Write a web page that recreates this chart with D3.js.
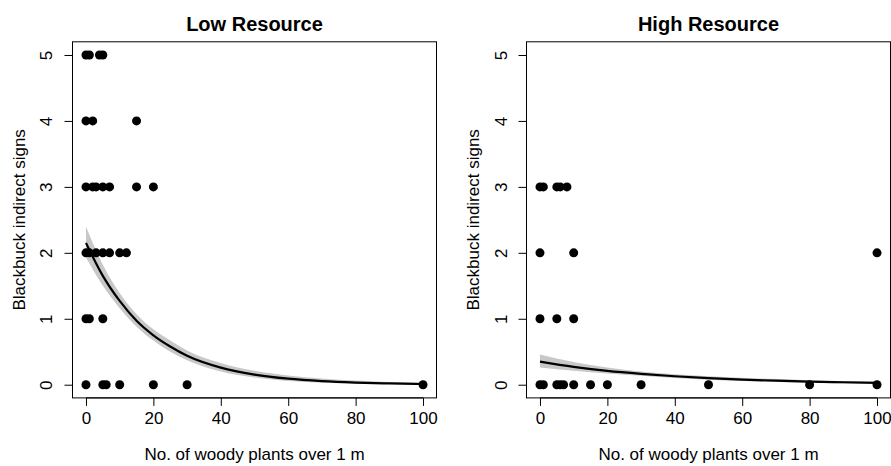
<!DOCTYPE html>
<html>
<head>
<meta charset="utf-8">
<script src="https://cdn.jsdelivr.net/npm/d3@7"></script>
<style>
  html, body { margin: 0; padding: 0; background: #fff; }
  svg { display: block; }
  text { font-family: "Liberation Sans", Arial, Helvetica, sans-serif; fill: #000; }
</style>
</head>
<body>
<svg id="chart" width="891" height="466"></svg>
<script>
// ---- Data ----
const panelTitles = ["Low Resource", "High Resource"];
const xTicks = [0, 20, 40, 60, 80, 100];
const yTicks = [0, 1, 2, 3, 4, 5];
const xLabel = "No. of woody plants over 1 m";
const yLabel = "Blackbuck indirect signs";

// Low resource observations
const lowX = [0, 1, 4, 5,  0, 2, 15,  0, 2, 3, 5, 7, 15, 20,  0, 1, 3, 5, 7, 10, 12,  0, 1, 5,  0, 5, 6, 10, 20, 30, 100];
const lowY = [5, 5, 5, 5,  4, 4, 4,   3, 3, 3, 3, 3, 3, 3,    2, 2, 2, 2, 2, 2, 2,     1, 1, 1,  0, 0, 0, 0, 0, 0, 0];

// High resource observations
const highX = [0, 1, 5, 6, 8,  0, 10, 100,  0, 5, 10,  0, 1, 5, 6, 7, 10, 15, 20, 30, 50, 80, 100];
const highY = [3, 3, 3, 3, 3,  2, 2, 2,     1, 1, 1,   0, 0, 0, 0, 0, 0, 0, 0, 0, 0, 0, 0];

// Fitted curves
const lowFitX  = [0, 5, 10, 15, 20, 25, 30, 40, 50, 60, 70, 80, 90, 100];
const lowFit   = [2.15, 1.65, 1.27, 0.97, 0.75, 0.58, 0.44, 0.26, 0.154, 0.091, 0.054, 0.032, 0.019, 0.011];
const lowLo    = [1.93, 1.50, 1.16, 0.88, 0.67, 0.50, 0.37, 0.20, 0.11, 0.058, 0.031, 0.016, 0.009, 0.005];
const lowHi    = [2.40, 1.82, 1.39, 1.07, 0.84, 0.67, 0.52, 0.33, 0.21, 0.14, 0.093, 0.062, 0.041, 0.027];

const highFitX = [0, 10, 20, 30, 40, 50, 60, 70, 80, 90, 100];
const highFit  = [0.35, 0.27, 0.21, 0.165, 0.128, 0.10, 0.078, 0.061, 0.047, 0.037, 0.029];
const highLo   = [0.26, 0.21, 0.17, 0.135, 0.10, 0.075, 0.055, 0.04, 0.028, 0.02, 0.014];
const highHi   = [0.46, 0.345, 0.26, 0.20, 0.16, 0.13, 0.105, 0.085, 0.068, 0.055, 0.045];

// ---- Drawing ----
const svg = d3.select("#chart");
const yRange = [397.9, 41.8];

const panels = [
  { title: panelTitles[0], xs: lowX, ys: lowY, fx: lowFitX, f: lowFit, lo: lowLo, hi: lowHi,
    xRange: [72.5, 436.5], yTitleX: 25, yTickX: 52 },
  { title: panelTitles[1], xs: highX, ys: highY, fx: highFitX, f: highFit, lo: highLo, hi: highHi,
    xRange: [526.5, 890.5], yTitleX: 479, yTickX: 507 }
];

panels.forEach(p => {
  const x = d3.scaleLinear().domain([-4, 104]).range(p.xRange);
  const y = d3.scaleLinear().domain([-0.2, 5.2]).range(yRange);
  const g = svg.append("g");

  // confidence band
  const band = p.fx.map((v, i) => ({ x: v, lo: p.lo[i], hi: p.hi[i] }));
  g.append("path")
    .datum(band)
    .attr("fill", "#c8c8c8")
    .attr("d", d3.area().curve(d3.curveMonotoneX)
      .x(d => x(d.x)).y0(d => y(d.lo)).y1(d => y(d.hi)));

  // fitted line
  const fit = p.fx.map((v, i) => ({ x: v, y: p.f[i] }));
  g.append("path")
    .datum(fit)
    .attr("fill", "none")
    .attr("stroke", "#000")
    .attr("stroke-width", 2.2)
    .attr("d", d3.line().curve(d3.curveMonotoneX).x(d => x(d.x)).y(d => y(d.y)));

  // points
  const pts = p.xs.map((v, i) => ({ x: v, y: p.ys[i] }));
  g.selectAll("circle.pt").data(pts).enter().append("circle")
    .attr("class", "pt")
    .attr("cx", d => x(d.x)).attr("cy", d => y(d.y))
    .attr("r", 4.5).attr("fill", "#000");

  // box
  g.append("rect")
    .attr("x", p.xRange[0]).attr("y", yRange[1])
    .attr("width", p.xRange[1] - p.xRange[0]).attr("height", yRange[0] - yRange[1])
    .attr("fill", "none").attr("stroke", "#000").attr("stroke-width", 1);

  // x axis
  const xa = g.append("g").attr("transform", `translate(0,${yRange[0]})`)
    .call(d3.axisBottom(x).tickValues(xTicks).tickSize(8).tickPadding(3).tickFormat(d3.format("d")));
  xa.select(".domain")
    .attr("d", `M${x(xTicks[0])},0H${x(xTicks[xTicks.length - 1])}`);
  xa.selectAll("text").attr("font-size", 17).attr("font-family", "Liberation Sans, Arial, sans-serif").attr("dy", "0.9em");
  xa.selectAll("line,path").attr("stroke", "#000");

  // y axis
  const ya = g.append("g").attr("transform", `translate(${p.xRange[0]},0)`)
    .call(d3.axisLeft(y).tickValues(yTicks).tickSize(8).tickFormat(d3.format("d")));
  ya.select(".domain")
    .attr("d", `M0,${y(yTicks[0])}V${y(yTicks[yTicks.length - 1])}`);
  ya.selectAll("line,path").attr("stroke", "#000");
  ya.selectAll("text").remove();
  ya.selectAll(".tick").append("text")
    .attr("transform", `translate(${p.yTickX - p.xRange[0]},0) rotate(-90)`)
    .attr("text-anchor", "middle")
    .attr("font-size", 17)
    .attr("font-family", "Liberation Sans, Arial, sans-serif")
    .attr("fill", "#000")
    .text(d => d);

  // titles
  svg.append("text").attr("x", (p.xRange[0] + p.xRange[1]) / 2).attr("y", 31)
    .attr("text-anchor", "middle").attr("font-weight", "bold").attr("font-size", 20)
    .text(p.title);
  svg.append("text").attr("x", (p.xRange[0] + p.xRange[1]) / 2).attr("y", 460)
    .attr("text-anchor", "middle").attr("font-size", 17)
    .text(xLabel);
  svg.append("text")
    .attr("transform", `translate(${p.yTitleX},${(yRange[0] + yRange[1]) / 2}) rotate(-90)`)
    .attr("text-anchor", "middle").attr("font-size", 17)
    .text(yLabel);
});
</script>
</body>
</html>
